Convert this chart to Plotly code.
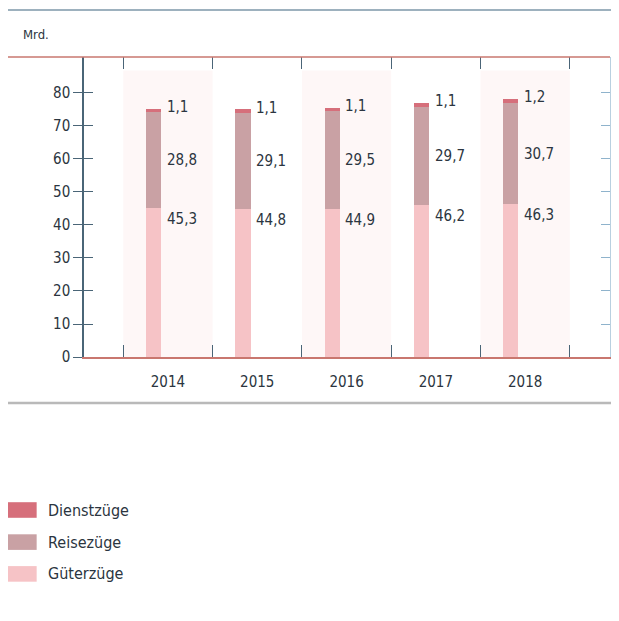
import plotly.graph_objects as go

# data (Mrd.)
years = ["2014", "2015", "2016", "2017", "2018"]
gueterzuege = [45.3, 44.8, 44.9, 46.2, 46.3]
reisezuege = [28.8, 29.1, 29.5, 29.7, 30.7]
dienstzuege = [1.1, 1.1, 1.1, 1.1, 1.2]

series_names = ["Güterzüge", "Reisezüge", "Dienstzüge"]
series_colors = ["#f6c3c6", "#c9a1a4", "#d66f7b"]

FONT = "DejaVu Sans Condensed, Liberation Sans Narrow, DejaVu Sans, sans-serif"
TEXT = "#2b3540"
AXIS = "#4a6577"

fig = go.Figure()
xs = list(range(len(years)))

for name, vals, col in zip(series_names, [gueterzuege, reisezuege, dienstzuege], series_colors):
    fig.add_trace(go.Bar(
        x=xs, y=vals, name=name, marker=dict(color=col, line=dict(width=0)),
        width=0.17, offset=-0.245, showlegend=False,
    ))

# faint background bands behind every other year
for i in range(0, len(years), 2):
    fig.add_shape(type="rect", xref="x", yref="paper", x0=i - 0.5, x1=i + 0.5,
                  y0=0, y1=0.955, fillcolor="#fef7f7", line_width=0, layer="below")

# value labels
def fmt(v):
    return f"{v:.1f}".replace(".", ",")

for i in xs:
    g, r, d = gueterzuege[i], reisezuege[i], dienstzuege[i]
    total = g + r + d
    for y, txt, anchor in [(g, fmt(g), "top"), (g + r / 2, fmt(r), "middle"),
                           (total + 0.6, fmt(d), "middle")]:
        fig.add_annotation(x=i - 0.035, y=y, text=txt, showarrow=False,
                           xanchor="left", yanchor=anchor,
                           font=dict(family=FONT, size=15, color=TEXT))

# unit and separator lines
fig.add_annotation(xref="paper", yref="paper", x=-0.12, y=1.075, text="Mrd.",
                   showarrow=False, xanchor="left", yanchor="middle",
                   font=dict(family=FONT, size=13, color=TEXT))
fig.add_shape(type="line", xref="paper", yref="paper", x0=-0.147, x1=1.02,
              y0=1.157, y1=1.157, line=dict(color="#7d97a8", width=1.5))
fig.add_shape(type="line", xref="paper", yref="paper", x0=-0.147, x1=1.0,
              y0=1.0, y1=1.0, line=dict(color="#c9776f", width=1.5))
fig.add_shape(type="line", xref="paper", yref="paper", x0=-0.147, x1=1.02,
              y0=-0.153, y1=-0.153, line=dict(color="#b9b9b9", width=2.5))

# custom legend (top to bottom as in the original)
leg_y = [-0.51, -0.617, -0.723]
for name, col, yy in zip(series_names[::-1], series_colors[::-1], leg_y):
    fig.add_shape(type="rect", xref="paper", yref="paper",
                  x0=-0.147, x1=-0.09, y0=yy - 0.026, y1=yy + 0.026,
                  fillcolor=col, line_width=0)
    fig.add_annotation(xref="paper", yref="paper", x=-0.073, y=yy, text=name,
                       showarrow=False, xanchor="left", yanchor="middle",
                       font=dict(family=FONT, size=16, color=TEXT))

xrange = [-0.94, 4.95]
yrange = [0, 90.9]

fig.update_layout(
    width=619, height=621,
    margin=dict(l=76, r=17, t=49, b=272),
    paper_bgcolor="white", plot_bgcolor="rgba(0,0,0,0)",
    barmode="stack", bargap=0,
    font=dict(family=FONT, size=15, color=TEXT),
    xaxis=dict(range=xrange, tickvals=xs, ticktext=years, ticks="",
               showgrid=False, zeroline=False, showline=True,
               linecolor="#c9776f", linewidth=1.5,
               tickfont=dict(size=15, color=TEXT), ticklabelstandoff=10),
    xaxis2=dict(range=xrange, overlaying="x", tickvals=[-0.5 + k for k in range(6)],
                ticks="inside", ticklen=12, tickcolor=AXIS, mirror="ticks",
                showticklabels=False, showgrid=False, zeroline=False, showline=False),
    yaxis=dict(range=yrange, tickvals=list(range(0, 90, 10)), ticks="outside",
               ticklen=9, tickcolor=AXIS, showgrid=False, zeroline=False,
               showline=True, linecolor=AXIS, linewidth=1.5,
               tickfont=dict(size=15, color=TEXT)),
    yaxis2=dict(range=yrange, overlaying="y", side="left", tickvals=list(range(10, 90, 10)),
                ticks="inside", ticklen=9, tickcolor=AXIS, showticklabels=False,
                showgrid=False, zeroline=False, showline=False),
    yaxis3=dict(range=yrange, overlaying="y", side="right", tickvals=list(range(10, 90, 10)),
                ticks="inside", ticklen=9, tickcolor="#8fb3cc", showticklabels=False,
                showgrid=False, zeroline=False, showline=True, linecolor="#b9d0e0"),
)

# invisible traces to activate the extra axes
fig.add_trace(go.Scatter(x=[None], y=[None], xaxis="x2", yaxis="y2", showlegend=False, hoverinfo="skip"))
fig.add_trace(go.Scatter(x=[None], y=[None], xaxis="x", yaxis="y3", showlegend=False, hoverinfo="skip"))

fig.write_html("out.html")
